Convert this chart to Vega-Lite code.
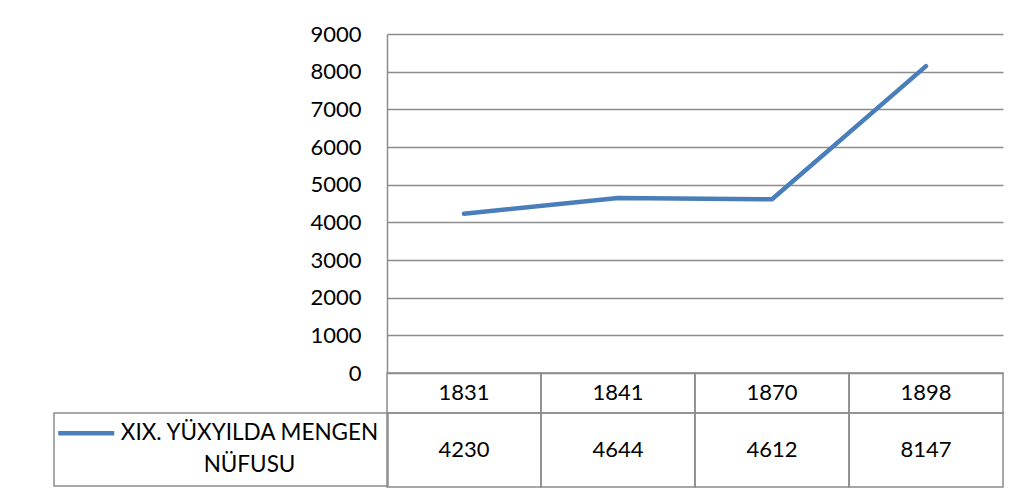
{
  "$schema": "https://vega.github.io/schema/vega-lite/v6.json",
  "datasets": {
    "pop": [
      {"year": "1831", "population": 4230, "series": "XIX. YÜXYILDA MENGEN NÜFUSU"},
      {"year": "1841", "population": 4644, "series": "XIX. YÜXYILDA MENGEN NÜFUSU"},
      {"year": "1870", "population": 4612, "series": "XIX. YÜXYILDA MENGEN NÜFUSU"},
      {"year": "1898", "population": 8147, "series": "XIX. YÜXYILDA MENGEN NÜFUSU"}
    ]
  },
  "autosize": {"type": "pad"},
  "padding": {"left": 53, "top": 23, "right": 10, "bottom": 5},
  "background": "white",
  "spacing": 0,
  "bounds": "flush",
  "vconcat": [
    {
      "width": 616,
      "height": 339,
      "data": {"name": "pop"},
      "mark": {"type": "line", "strokeWidth": 4.5, "strokeCap": "round", "strokeJoin": "round"},
      "encoding": {
        "x": {"field": "year", "type": "ordinal", "scale": {"type": "band", "paddingInner": 0, "paddingOuter": 0}, "axis": null},
        "y": {
          "field": "population", "type": "quantitative",
          "scale": {"domain": [0, 9000], "nice": false},
          "axis": {
            "values": [0, 1000, 2000, 3000, 4000, 5000, 6000, 7000, 8000, 9000],
            "format": "d", "title": null, "grid": true, "gridColor": "#8c8c8c", "gridWidth": 1.5,
            "domainColor": "#8c8c8c", "domainWidth": 1.5, "ticks": false, "tickSize": 0,
            "labelPadding": 26, "labelFont": "Lato", "labelFontSize": 22, "labelColor": "#000000"
          }
        },
        "color": {
          "field": "series", "type": "nominal",
          "scale": {"range": ["#4a7ebb"]},
          "legend": {
            "orient": "none", "legendX": -333, "legendY": 379, "title": null,
            "symbolType": "M-2,0H5", "symbolSize": 256, "symbolStrokeWidth": 4.5,
            "labelFont": "Lato", "labelFontSize": 22.5, "labelColor": "#000000", "labelLimit": 0,
            "labelAlign": "center", "labelOffset": 164, "labelBaseline": "middle",
            "labelExpr": "[slice(datum.label, 0, 20), slice(datum.label, 21)]",
            "strokeColor": "#8c8c8c", "padding": 9, "cornerRadius": 0
          }
        }
      }
    },
    {
      "width": 616,
      "height": 40,
      "data": {"name": "pop"},
      "layer": [
        {
          "mark": {"type": "rect", "fill": "transparent", "stroke": "#8c8c8c", "strokeWidth": 1.5},
          "encoding": {"x": {"field": "year", "type": "ordinal", "scale": {"type": "band", "paddingInner": 0, "paddingOuter": 0}, "axis": null}}
        },
        {
          "mark": {"type": "text", "font": "Lato", "fontSize": 22, "color": "#000000"},
          "encoding": {
            "x": {"field": "year", "type": "ordinal", "axis": null},
            "text": {"field": "year"}
          }
        }
      ]
    },
    {
      "width": 616,
      "height": 74,
      "data": {"name": "pop"},
      "layer": [
        {
          "mark": {"type": "rect", "fill": "transparent", "stroke": "#8c8c8c", "strokeWidth": 1.5},
          "encoding": {"x": {"field": "year", "type": "ordinal", "scale": {"type": "band", "paddingInner": 0, "paddingOuter": 0}, "axis": null}}
        },
        {
          "mark": {"type": "text", "font": "Lato", "fontSize": 22, "color": "#000000"},
          "encoding": {
            "x": {"field": "year", "type": "ordinal", "axis": null},
            "text": {"field": "population", "format": "d"}
          }
        }
      ]
    }
  ],
  "config": {
    "view": {"stroke": null},
    "font": "Lato",
    "legend": {"strokeWidth": 1.5},
    "style": {"guide-label": {"lineHeight": 32}}
  }
}
